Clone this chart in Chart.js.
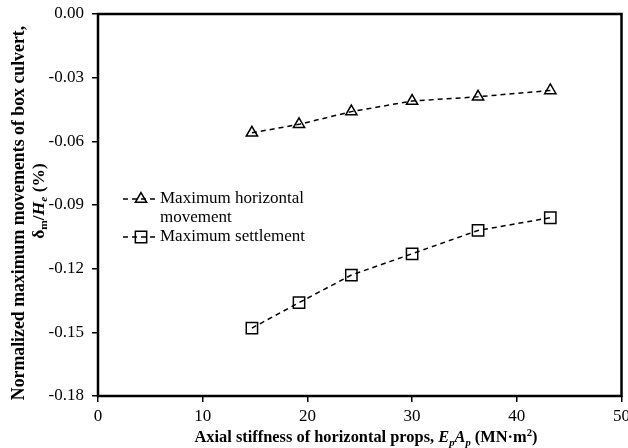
<!DOCTYPE html>
<html>
<head>
<meta charset="utf-8">
<script src="https://cdn.jsdelivr.net/npm/chart.js@4"></script>
<style>
  html, body { margin: 0; background: #fff; overflow: hidden; }
  canvas { display: block; }
</style>
</head>
<body>
<canvas id="propsChart" width="634" height="448"></canvas>
<script>
// Axial stiffness of props vs normalized max movements
const stiffness = [14.7, 19.2, 24.2, 30.0, 36.3, 43.2];
const horizontalMovement = [-0.056, -0.052, -0.046, -0.041, -0.039, -0.036];
const settlement = [-0.148, -0.136, -0.123, -0.113, -0.102, -0.096];
const seriesNames = [['Maximum horizontal', 'movement'], ['Maximum settlement']];
const xTicks = [0, 10, 20, 30, 40, 50];
const yTicks = [-0.18, -0.15, -0.12, -0.09, -0.06, -0.03, 0.00];

const SERIF = "'Liberation Serif', 'Times New Roman', serif";
Chart.defaults.font.family = SERIF;
Chart.defaults.color = '#000';

const toPoints = (ys) => ys.map((y, i) => ({ x: stiffness[i], y: y }));

// draw text made of runs (bold / italic / sub / sup), centred on (cx, cy)
function richText(ctx, runs, cx, cy, size, rotate) {
  ctx.save();
  ctx.translate(cx, cy);
  if (rotate) ctx.rotate(-Math.PI / 2);
  ctx.textBaseline = 'alphabetic';
  ctx.fillStyle = '#000';
  let widths = runs.map(r => {
    const s = (r.sub || r.sup) ? size * 0.65 : size;
    ctx.font = (r.style || 'bold') + ' ' + s + 'px ' + SERIF;
    return ctx.measureText(r.t).width;
  });
  let total = widths.reduce((a, b) => a + b, 0);
  let x = -total / 2;
  runs.forEach((r, i) => {
    const s = (r.sub || r.sup) ? size * 0.65 : size;
    ctx.font = (r.style || 'bold') + ' ' + s + 'px ' + SERIF;
    let dy = size * 0.33;
    if (r.sub) dy += size * 0.2;
    if (r.sup) dy -= size * 0.38;
    ctx.fillText(r.t, x, dy);
    x += widths[i];
  });
  ctx.restore();
}

const framePlugin = {
  id: 'frame',
  afterDatasetsDraw(chart) {
    const { ctx, chartArea: a } = chart;
    ctx.save();
    ctx.strokeStyle = '#000';
    ctx.lineWidth = 2.5;
    ctx.strokeRect(a.left, a.top, a.right - a.left, a.bottom - a.top);
    ctx.restore();
  }
};

const titlesPlugin = {
  id: 'titles',
  afterDraw(chart) {
    const ctx = chart.ctx;
    richText(ctx, [{ t: 'Normalized maximum movements of box culvert,' }], 18, 213, 17.8, true);
    richText(ctx, [
      { t: '\u03B4' }, { t: 'm', sub: true }, { t: '/' },
      { t: 'H', style: 'italic bold' }, { t: 'e', style: 'italic bold', sub: true },
      { t: ' (%)' }
    ], 38, 201, 17.5, true);
    richText(ctx, [
      { t: 'Axial stiffness of horizontal props, ' },
      { t: 'E', style: 'italic bold' }, { t: 'p', style: 'italic bold', sub: true },
      { t: 'A', style: 'italic bold' }, { t: 'p', style: 'italic bold', sub: true },
      { t: ' (MN\u00B7m' }, { t: '2', sup: true }, { t: ')' }
    ], 366, 437, 16.4, false);
  }
};

const legendPlugin = {
  id: 'insideLegend',
  afterDraw(chart) {
    const ctx = chart.ctx;
    const rows = [199, 237];
    chart.data.datasets.forEach((ds, i) => {
      const y = rows[i];
      ctx.save();
      ctx.strokeStyle = '#000';
      ctx.lineWidth = 1.5;
      ctx.setLineDash([5, 4]);
      ctx.beginPath();
      ctx.moveTo(123, y);
      ctx.lineTo(158, y);
      ctx.stroke();
      ctx.setLineDash([]);
      ctx.fillStyle = 'rgba(0,0,0,0)';
      Chart.helpers.drawPoint(ctx, {
        pointStyle: ds.pointStyle, radius: ds.pointRadius,
        borderWidth: 1.5, rotation: 0
      }, 141, y);
      ctx.fillStyle = '#000';
      ctx.font = '17px ' + SERIF;
      ctx.textBaseline = 'middle';
      seriesNames[i].forEach((line, k) => ctx.fillText(line, 160, y + k * 19));
      ctx.restore();
    });
  }
};

const ctx = document.getElementById('propsChart').getContext('2d');
const propsChart = new Chart(ctx, {
  type: 'line',
  data: {
    datasets: [{
      label: seriesNames[0].join(' '),
      data: toPoints(horizontalMovement),
      borderColor: '#000',
      borderWidth: 1.5,
      borderDash: [5, 4],
      pointStyle: 'triangle',
      pointRadius: 6.5,
      pointBorderWidth: 1.5,
      pointBorderColor: '#000',
      pointBackgroundColor: 'rgba(0,0,0,0)',
      fill: false,
      tension: 0
    }, {
      label: seriesNames[1].join(' '),
      data: toPoints(settlement),
      borderColor: '#000',
      borderWidth: 1.5,
      borderDash: [5, 4],
      pointStyle: 'rect',
      pointRadius: 8,
      pointBorderWidth: 1.5,
      pointBorderColor: '#000',
      pointBackgroundColor: 'rgba(0,0,0,0)',
      fill: false,
      tension: 0
    }]
  },
  options: {
    responsive: false,
    animation: false,
    layout: { padding: { left: 0, top: 14, right: 0, bottom: 0 } },
    plugins: {
      legend: { display: false },
      tooltip: { enabled: false }
    },
    scales: {
      x: {
        type: 'linear',
        min: xTicks[0],
        max: xTicks[xTicks.length - 1],
        afterBuildTicks: (s) => { s.ticks = xTicks.map(v => ({ value: v })); },
        afterFit: (s) => { s.height = 52; },
        ticks: { font: { size: 17 }, padding: 4, maxRotation: 0 },
        grid: { drawOnChartArea: false, tickLength: 6, color: '#000', lineWidth: 1.5 },
        border: { display: false }
      },
      y: {
        type: 'linear',
        min: yTicks[0],
        max: yTicks[yTicks.length - 1],
        afterBuildTicks: (s) => { s.ticks = yTicks.map(v => ({ value: v })); },
        afterFit: (s) => { s.width = 98; s.paddingTop = 0; s.paddingBottom = 0; },
        ticks: {
          font: { size: 17 }, padding: 8,
          callback: (v) => Number(v).toFixed(2).replace('-0.00', '0.00')
        },
        grid: { drawOnChartArea: false, tickLength: 6, color: '#000', lineWidth: 1.5 },
        border: { display: false }
      }
    }
  },
  plugins: [framePlugin, titlesPlugin, legendPlugin]
});
</script>
</body>
</html>
